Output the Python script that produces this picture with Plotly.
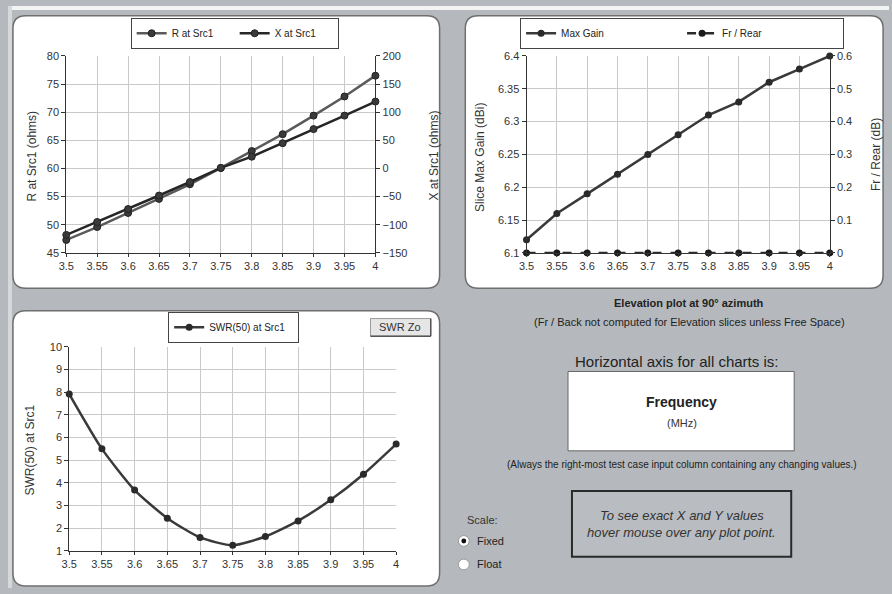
import plotly.graph_objects as go

# ---------------- data ----------------
freq = [3.5, 3.55, 3.6, 3.65, 3.7, 3.75, 3.8, 3.85, 3.9, 3.95, 4.0]
freq_labels = ["3.5", "3.55", "3.6", "3.65", "3.7", "3.75", "3.8", "3.85", "3.9", "3.95", "4"]
r_src1 = [47.3, 49.6, 52.1, 54.6, 57.2, 60.1, 63.1, 66.1, 69.4, 72.8, 76.5]
x_src1 = [-118, -95, -72, -48, -24, 1, 21, 45, 70, 94, 119]
max_gain = [6.12, 6.16, 6.19, 6.22, 6.25, 6.28, 6.31, 6.33, 6.36, 6.38, 6.40]
fr_rear = [0, 0, 0, 0, 0, 0, 0, 0, 0, 0, 0]
swr50 = [7.92, 5.5, 3.68, 2.44, 1.59, 1.24, 1.63, 2.32, 3.25, 4.38, 5.71]

W, H = 892, 594
FONT = "Liberation Sans, Arial, sans-serif"
BG = "#b5b9bd"
GRID = "#c9c9c9"
AX = "#333333"


def px(x):
    return x / W


def py(y):
    return 1 - y / H


fig = go.Figure()

# traces
fig.add_trace(go.Scatter(x=freq, y=r_src1, name="R at Src1", mode="lines+markers",
                         line=dict(color="#5a5a5a", width=2.5),
                         marker=dict(size=7, color="#3a3a3a", line=dict(color="#222", width=1)),
                         xaxis="x", yaxis="y", legend="legend", cliponaxis=False))
fig.add_trace(go.Scatter(x=freq, y=x_src1, name="X at Src1", mode="lines+markers",
                         line=dict(color="#262626", width=2.5),
                         marker=dict(size=7, color="#3a3a3a", line=dict(color="#222", width=1)),
                         xaxis="x", yaxis="y2", legend="legend", cliponaxis=False))
fig.add_trace(go.Scatter(x=freq, y=max_gain, name="Max Gain", mode="lines+markers",
                         line=dict(color="#3a3a3a", width=2.5),
                         marker=dict(size=7, color="#2a2a2a"),
                         xaxis="x3", yaxis="y3", legend="legend2", cliponaxis=False))
fig.add_trace(go.Scatter(x=freq, y=fr_rear, name="Fr / Rear", mode="lines+markers",
                         line=dict(color="#2a2a2a", width=2.5, dash="dash"),
                         marker=dict(size=7, color="#1a1a1a"),
                         xaxis="x3", yaxis="y4", legend="legend2", cliponaxis=False))
fig.add_trace(go.Scatter(x=freq, y=swr50, name="SWR(50) at Src1", mode="lines+markers",
                         line=dict(color="#3a3a3a", width=2.5, shape="spline", smoothing=0.6),
                         marker=dict(size=7, color="#2a2a2a"),
                         xaxis="x5", yaxis="y5", legend="legend3", cliponaxis=False))

tickfont = dict(family=FONT, size=11, color="#333")


def xax(domain, anchor):
    return dict(domain=domain, anchor=anchor, range=[3.5, 4.0], tickvals=freq, ticktext=freq_labels,
                showgrid=True, gridcolor=GRID, gridwidth=1, showline=True, linecolor=AX, linewidth=1,
                ticks="outside", ticklen=3, tickcolor=AX, tickfont=tickfont, zeroline=False,
                mirror=False, fixedrange=True)


def yax(domain, anchor, rng, dtick, side="left", overlaying=None, grid=True):
    d = dict(domain=domain, anchor=anchor, range=rng, dtick=dtick, side=side,
             showgrid=grid, gridcolor=GRID, gridwidth=1, showline=True, linecolor=AX, linewidth=1,
             ticks="outside", ticklen=4, tickcolor=AX, tickfont=tickfont, zeroline=False,
             fixedrange=True)
    if overlaying:
        d["overlaying"] = overlaying
    return d


tl_x = [px(59), px(372)]
tl_y = [py(252), py(51)]
tr_x = [px(525), px(832)]
tr_y = [py(252), py(51)]
bl_x = [px(62), px(393)]
bl_y = [py(556), py(348)]

layout = dict(
    width=W, height=H, margin=dict(l=0, r=0, t=0, b=0),
    paper_bgcolor=BG, plot_bgcolor="white",
    font=dict(family=FONT, size=11, color="#222"),
    xaxis=xax(tl_x, "y"),
    yaxis=yax(tl_y, "x", [45, 80], 5),
    yaxis2=yax(tl_y, "x", [-150, 200], 50, side="right", overlaying="y", grid=False),
    xaxis3=xax(tr_x, "y3"),
    yaxis3=yax(tr_y, "x3", [6.1, 6.4], 0.05),
    yaxis4=yax(tr_y, "x3", [0, 0.6], 0.1, side="right", overlaying="y3", grid=False),
    xaxis5=xax(bl_x, "y5"),
    yaxis5=yax(bl_y, "x5", [1, 10], 1),
)

leg_common = dict(orientation="h", bgcolor="white", bordercolor="#444", borderwidth=1,
                  font=dict(family=FONT, size=10, color="#222"), xanchor="center", yanchor="top",
                  itemwidth=30, tracegroupgap=0)
layout["legend"] = dict(leg_common, x=px(229.5), y=py(12), entrywidth=58)
layout["legend2"] = dict(leg_common, x=px(682.5), y=py(12), entrywidth=116)
layout["legend3"] = dict(leg_common, x=px(228.5), y=py(312), entrywidth=84)
fig.update_layout(**layout)


def rrect(x0, y0, x1, y1, r):
    X0, X1 = px(x0), px(x1)
    Y0, Y1 = py(y0), py(y1)
    rx, ry = r / W, r / H
    return (f"M {X0+rx},{Y0} L {X1-rx},{Y0} Q {X1},{Y0} {X1},{Y0-ry} "
            f"L {X1},{Y1+ry} Q {X1},{Y1} {X1-rx},{Y1} L {X0+rx},{Y1} "
            f"Q {X0},{Y1} {X0},{Y1+ry} L {X0},{Y0-ry} Q {X0},{Y0} {X0+rx},{Y0} Z")


shapes = []
# top white strip / left light strip
shapes.append(dict(type="rect", xref="paper", yref="paper", x0=0, x1=1, y0=py(4), y1=1,
                   fillcolor="#f4f4f4", line=dict(width=0), layer="below"))
shapes.append(dict(type="rect", xref="paper", yref="paper", x0=0, x1=px(4), y0=0, y1=1,
                   fillcolor="#d6d8da", line=dict(width=0), layer="below"))
for (a, b, c, d) in [(5, 10, 437, 288), (463, 10, 886, 288), (5, 311, 437, 592)]:
    shapes.append(dict(type="path", xref="paper", yref="paper", path=rrect(a, b, c, d, 13),
                       fillcolor="white", line=dict(color="#6f6f6f", width=1.5), layer="below"))
# Frequency box
shapes.append(dict(type="rect", xref="paper", yref="paper", x0=px(567), x1=px(796), y0=py(454), y1=py(373),
                   fillcolor="white", line=dict(color="#666", width=1)))
# hover info box
shapes.append(dict(type="rect", xref="paper", yref="paper", x0=px(571), x1=px(793), y0=py(562), y1=py(495),
                   fillcolor="#b9bdc1", line=dict(color="#2a2a2a", width=2)))
# SWR Zo button
shapes.append(dict(type="rect", xref="paper", yref="paper", x0=px(367), x1=px(428), y0=py(337), y1=py(319),
                   fillcolor="#e6e6e6", line=dict(color="#9a9a9a", width=1)))
shapes.append(dict(type="line", xref="paper", yref="paper", x0=px(367), x1=px(428), y0=py(337), y1=py(337),
                   line=dict(color="#555", width=1.5)))
shapes.append(dict(type="line", xref="paper", yref="paper", x0=px(428), x1=px(428), y0=py(337), y1=py(319),
                   line=dict(color="#555", width=1.5)))
# radio buttons
for cy in [546, 570]:
    shapes.append(dict(type="circle", xref="paper", yref="paper", x0=px(456), x1=px(467),
                       y0=py(cy + 5.5), y1=py(cy - 5.5), fillcolor="white", line=dict(color="#999", width=1)))
shapes.append(dict(type="circle", xref="paper", yref="paper", x0=px(459), x1=px(464),
                   y0=py(548.5), y1=py(543.5), fillcolor="#111", line=dict(color="#111", width=0)))
fig.update_layout(shapes=shapes)


def ann(text, x, y, size=11, angle=0, bold=False, italic=False, color="#333", xanchor="center"):
    t = text
    if bold:
        t = f"<b>{t}</b>"
    if italic:
        t = f"<i>{t}</i>"
    return dict(text=t, x=px(x), y=py(y), xref="paper", yref="paper", showarrow=False,
                textangle=angle, xanchor=xanchor, yanchor="middle",
                font=dict(family=FONT, size=size, color=color))


annotations = [
    ann("R at Src1 (ohms)", 24, 153, angle=-90, size=12),
    ann("X at Src1 (ohms)", 431, 153, angle=-90, size=12),
    ann("Slice Max Gain (dBi)", 478, 155, angle=-90, size=12),
    ann("Fr / Rear (dB)", 879, 152, angle=-90, size=12),
    ann("SWR(50) at Src1", 22, 453, angle=-90, size=12),
    ann("SWR Zo", 397, 328, size=11, color="#333"),
    ann("Elevation plot at 90° azimuth", 689, 303, size=11, bold=True, color="#222"),
    ann("(Fr / Back not computed for Elevation slices unless Free Space)", 690, 323, size=11, color="#222"),
    ann("Horizontal axis for all charts is:", 677, 363, size=15, color="#222"),
    ann("Frequency", 682, 404, size=14, bold=True, color="#222"),
    ann("(MHz)", 682, 426, size=11, color="#333"),
    ann("(Always the right-most test case input column containing any changing values.)", 682, 468,
        size=10, color="#222"),
    ann("To see exact X and Y values", 682, 520, size=13, italic=True, color="#333"),
    ann("hover mouse over any plot point.", 682, 537, size=13, italic=True, color="#333"),
    ann("Scale:", 463, 525, size=11, color="#333", xanchor="left"),
    ann("Fixed", 473, 546, size=11, color="#222", xanchor="left"),
    ann("Float", 473, 570, size=11, color="#222", xanchor="left"),
]
fig.update_layout(annotations=annotations)

fig.write_html("out.html")
